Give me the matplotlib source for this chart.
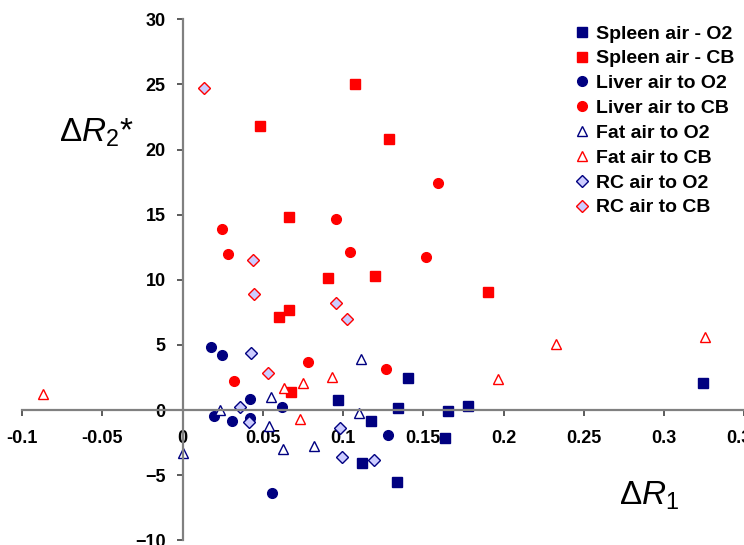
import matplotlib
matplotlib.use("Agg")
import matplotlib.pyplot as plt

plt.rcParams['font.family'] = ['Liberation Sans', 'DejaVu Sans']
plt.rcParams['mathtext.fontset'] = 'custom'
plt.rcParams['mathtext.rm'] = 'Liberation Sans'
plt.rcParams['mathtext.it'] = 'Liberation Sans:italic'

# data (dR1, dR2*)
spleen_o2_x = [0.0971, 0.1118, 0.1174, 0.1345, 0.1403, 0.1338, 0.1636, 0.1656, 0.1779, 0.3243]
spleen_o2_y = [0.80, -4.09, -0.84, 0.18, 2.49, -5.52, -2.12, -0.10, 0.31, 2.10]

spleen_cb_x = [0.0481, 0.1077, 0.0662, 0.1288, 0.0908, 0.0601, 0.0664, 0.1201, 0.1903, 0.0678]
spleen_cb_y = [21.81, 25.04, 14.79, 20.78, 10.14, 7.17, 7.71, 10.26, 9.09, 1.36]

liver_o2_x = [0.0176, 0.0248, 0.0422, 0.0622, 0.0196, 0.0307, 0.0421, 0.0556, 0.1280]
liver_o2_y = [4.81, 4.20, 0.85, 0.24, -0.48, -0.84, -0.61, -6.40, -1.91]

liver_cb_x = [0.0244, 0.0956, 0.0282, 0.1044, 0.1594, 0.1515, 0.0784, 0.0321, 0.1266]
liver_cb_y = [13.93, 14.69, 11.95, 12.14, 17.46, 11.72, 3.72, 2.20, 3.12]

fat_o2_x = [0.1114, 0.0551, 0.0234, 0.1102, 0.0541, 0.0624, 0.0819, 0.0]
fat_o2_y = [3.95, 1.03, -0.02, -0.20, -1.22, -3.02, -2.76, -3.29]

fat_cb_x = [0.0933, 0.0753, 0.0634, 0.0732, -0.0867, 0.2329, 0.3255, 0.1966]
fat_cb_y = [2.51, 2.05, 1.70, -0.71, 1.26, 5.07, 5.61, 2.39]

rc_o2_x = [0.0427, 0.0360, 0.0416, 0.0981, 0.0992, 0.1191]
rc_o2_y = [4.41, 0.26, -0.91, -1.37, -3.60, -3.86]

rc_cb_x = [0.0132, 0.0439, 0.0444, 0.0955, 0.1023, 0.0535]
rc_cb_y = [24.73, 11.49, 8.94, 8.22, 6.96, 2.87]

xticks = [-0.1, -0.05, 0, 0.05, 0.1, 0.15, 0.2, 0.25, 0.3, 0.35]
xtick_labels = ['-0.1', '-0.05', '0', '0.05', '0.1', '0.15', '0.2', '0.25', '0.3', '0.35']
yticks = [-10, -5, 0, 5, 10, 15, 20, 25, 30]

navy = '#000080'
red = '#FF0000'
lav = '#CCCCFF'

fig = plt.figure(figsize=(7.44, 5.45), dpi=100)
ax = fig.add_axes([0.0296, 0.0086, 0.9708, 0.956])

ax.plot(spleen_o2_x, spleen_o2_y, 's', color=navy, ms=6.7, mec=navy, label='Spleen air - O2')
ax.plot(spleen_cb_x, spleen_cb_y, 's', color=red, ms=6.7, mec=red, label='Spleen air - CB')
ax.plot(liver_o2_x, liver_o2_y, 'o', color=navy, ms=7, mec=navy, label='Liver air to O2')
ax.plot(liver_cb_x, liver_cb_y, 'o', color=red, ms=7, mec=red, label='Liver air to CB')
ax.plot(fat_o2_x, fat_o2_y, '^', mfc='white', mec=navy, ms=7.5, mew=1, label='Fat air to O2')
ax.plot(fat_cb_x, fat_cb_y, '^', mfc='white', mec=red, ms=7.5, mew=1, label='Fat air to CB')
ax.plot(rc_o2_x, rc_o2_y, 'D', mfc=lav, mec=navy, ms=6.3, mew=1, label='RC air to O2')
ax.plot(rc_cb_x, rc_cb_y, 'D', mfc=lav, mec=red, ms=6.3, mew=1, label='RC air to CB')

ax.set_xlim(-0.1, 0.35)
ax.set_ylim(-10, 30)
ax.spines['left'].set_position(('data', 0))
ax.spines['bottom'].set_position(('data', 0))
ax.spines['top'].set_visible(False)
ax.spines['right'].set_visible(False)
for s in ['left', 'bottom']:
    ax.spines[s].set_color('#808080')
    ax.spines[s].set_linewidth(1.6)

ax.set_xticks(xticks)
ax.set_xticklabels(xtick_labels)
ax.set_yticks(yticks)
ax.tick_params(axis='both', direction='out', length=4, width=1.2, color='#404040',
               labelsize=13)
ax.tick_params(axis='x', pad=10)
ax.tick_params(axis='y', pad=8)
for lb in ax.get_xticklabels() + ax.get_yticklabels():
    lb.set_fontweight('bold')
ax.patch.set_visible(False)

leg = ax.legend(loc='upper left', bbox_to_anchor=(0.775, 0.954),
                bbox_transform=fig.transFigure, frameon=False,
                prop={'size': 14, 'weight': 'bold'}, handlelength=0.6,
                handletextpad=0.4, labelspacing=0.37, borderpad=0,
                borderaxespad=0, numpoints=1)

fig.text(59 / 744, 1 - 133 / 545, 'Δ$\\mathit{R}_{2}$*', fontsize=24, va='center', ha='left')
fig.text(619 / 744, 1 - 505 / 545, 'Δ$\\mathit{R}_{1}$', fontsize=24, va='baseline', ha='left')

fig.savefig('out.png', dpi=100)
